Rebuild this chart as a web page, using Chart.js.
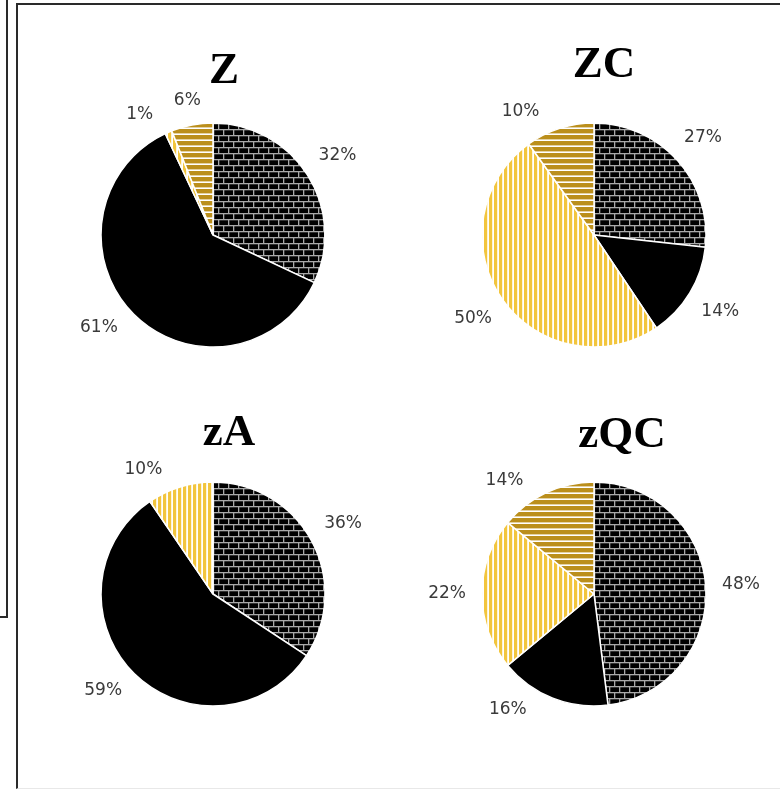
<!DOCTYPE html>
<html>
<head>
<meta charset="utf-8">
<script src="https://cdn.jsdelivr.net/npm/chart.js@4/dist/chart.umd.min.js"></script>
<style>
  html, body { margin: 0; padding: 0; background: #fff; }
  body { width: 780px; height: 790px; position: relative; overflow: hidden; }
  #sideBox { position: absolute; left: -10px; top: -10px; width: 14px; height: 624px; border: 2px solid #2a2a2a; }
  #mainBox { position: absolute; left: 16px; top: 3px; width: 800px; height: 783px;
             border-left: 2px solid #2a2a2a; border-top: 2px solid #2a2a2a; border-bottom: 1px solid #e8e8e8; }
  canvas { position: absolute; }
</style>
</head>
<body>
<div id="sideBox"></div>
<div id="mainBox"></div>
<canvas id="pieZ"   width="380" height="380" style="left:23px;  top:45px"></canvas>
<canvas id="pieZC"  width="380" height="380" style="left:404px; top:45px"></canvas>
<canvas id="pieZA"  width="380" height="380" style="left:23px;  top:404px"></canvas>
<canvas id="pieZQC" width="380" height="380" style="left:404px; top:404px"></canvas>
<script>
// ---- data ----
const categories = ['A', 'B', 'C', 'D'];
const titles = ['Z', 'ZC', 'zA', 'zQC'];
const valuesZ   = [32, 61, 1, 6];
const valuesZC  = [27, 14, 50, 10];
const valuesZA  = [36, 59, 10];
const valuesZQC = [48, 16, 22, 14];

// ---- fill patterns ----
function makeTile(w, h, paint) {
  const c = document.createElement('canvas');
  c.width = w; c.height = h;
  paint(c.getContext('2d'));
  return c.getContext('2d').createPattern(c, 'repeat');
}
const brick = makeTile(10, 12, g => {
  g.fillStyle = '#000'; g.fillRect(0, 0, 10, 12);
  g.fillStyle = '#a9a9a9';
  g.fillRect(0, 0, 10, 1.3);
  g.fillRect(0, 6, 10, 1.3);
  g.fillRect(0, 0, 1.3, 6);
  g.fillRect(5, 6, 1.3, 6);
});
const solid = '#000000';
const vStripes = makeTile(5, 1, g => {
  g.fillStyle = '#ffffff'; g.fillRect(0, 0, 5, 1);
  g.fillStyle = '#f2c53d'; g.fillRect(0, 0, 3.2, 1);
});
const hStripes = makeTile(1, 6, g => {
  g.fillStyle = '#ffffff'; g.fillRect(0, 0, 1, 6);
  g.fillStyle = '#bb8f1c'; g.fillRect(0, 0, 1, 4.4);
});
const fills = [brick, solid, vStripes, hStripes];

// ---- percentage labels and chart heading ----
const pieText = {
  id: 'pieText',
  afterDatasetsDraw(chart, args, opts) {
    const ctx = chart.ctx;
    const meta = chart.getDatasetMeta(0);
    const values = chart.data.datasets[0].data;
    ctx.save();
    ctx.font = opts.labelFont;
    ctx.fillStyle = opts.labelColor;
    ctx.textAlign = 'center';
    ctx.textBaseline = 'middle';
    meta.data.forEach((arc, i) => {
      const p = arc.getProps(['x', 'y', 'startAngle', 'endAngle', 'outerRadius'], true);
      const txt = values[i] + '%';
      const a = (p.startAngle + p.endAngle) / 2 + (opts.nudge[i] || 0) * Math.PI / 180;
      const w = ctx.measureText(txt).width;
      const c = Math.cos(a), s = Math.sin(a);
      const d = p.outerRadius + opts.gap + Math.abs(c) * w / 2 + Math.abs(s) * opts.labelHeight / 2;
      ctx.fillText(txt, p.x + c * d, p.y + s * d);
    });
    const cx = (chart.chartArea.left + chart.chartArea.right) / 2;
    const cy = (chart.chartArea.top + chart.chartArea.bottom) / 2;
    ctx.font = opts.titleFont;
    ctx.fillStyle = '#000';
    ctx.textBaseline = 'alphabetic';
    ctx.fillText(opts.title, cx + opts.titleDx, cy + opts.titleDy);
    ctx.restore();
  }
};

function drawPie(id, title, values, nudge, titleDx, titleDy) {
  new Chart(document.getElementById(id), {
    type: 'pie',
    data: {
      labels: categories.slice(0, values.length),
      datasets: [{
        data: values,
        backgroundColor: fills.slice(0, values.length),
        borderColor: '#ffffff',
        borderWidth: 1.5,
        radius: 112
      }]
    },
    options: {
      responsive: false,
      animation: false,
      events: [],
      layout: { padding: 0 },
      plugins: {
        legend: { display: false },
        tooltip: { enabled: false },
        title: { display: false },
        pieText: {
          title: title,
          titleDx: titleDx,
          titleDy: titleDy,
          titleFont: 'bold 45px "Liberation Serif", "Times New Roman", serif',
          labelFont: '17px "DejaVu Sans", sans-serif',
          labelColor: '#3a3a3a',
          labelHeight: 13,
          gap: 16,
          nudge: nudge
        }
      }
    },
    plugins: [pieText]
  });
}

drawPie('pieZ',   titles[0], valuesZ,   [0, 6, -8, 0],   11, -152);
drawPie('pieZC',  titles[1], valuesZC,  [0, 0, 0, -13],  10, -158);
drawPie('pieZA',  titles[2], valuesZA,  [0, 4, -12],     16, -149);
drawPie('pieZQC', titles[3], valuesZQC, [0, 15, 0, -13], 28, -147);
</script>
</body>
</html>
